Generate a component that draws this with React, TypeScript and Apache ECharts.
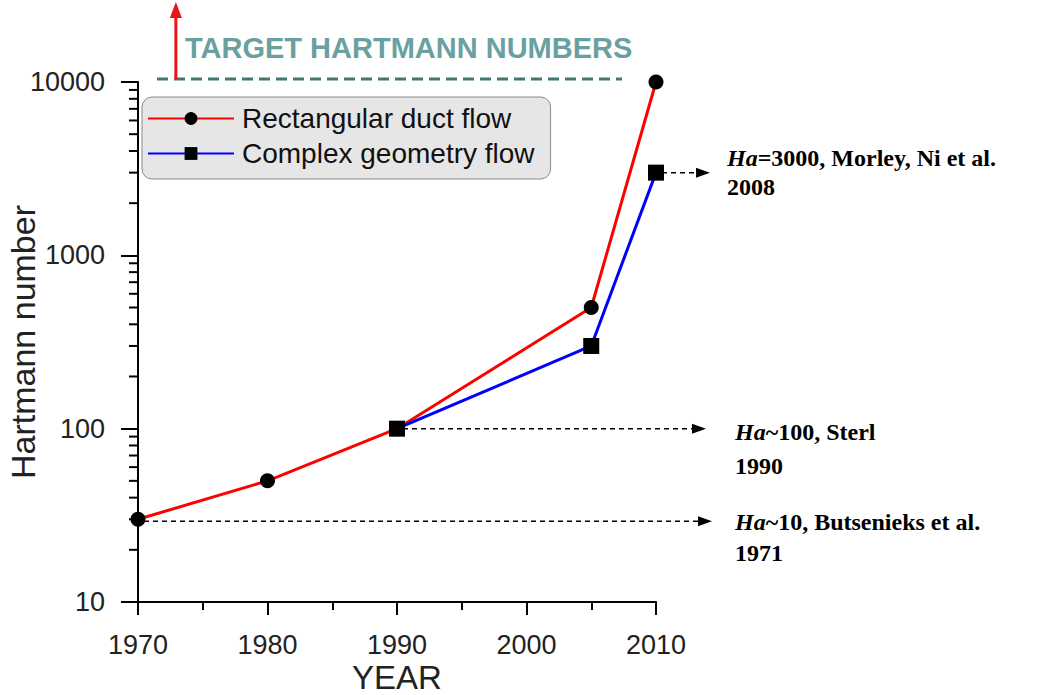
import React, { useEffect, useRef } from "react";
import * as echarts from "echarts";

const years = [1970, 1980, 1990, 2005, 2010];
const rectValues = [30, 50, 100, 500, 10000];
const complexYears = [1990, 2005, 2010];
const complexValues = [100, 300, 3000];
const yMinorTicks = [20, 30, 40, 50, 60, 70, 80, 90, 200, 300, 400, 500, 600, 700, 800, 900, 2000, 3000, 4000, 5000, 6000, 7000, 8000, 9000];
const annotations = [
  { year: 2010, value: 3000, line1: "=3000, Morley, Ni et al.", line2: "2008", tipX: 710, textX: 727, dy1: -15, dy2: 14 },
  { year: 1990, value: 100, line1: "~100, Sterl", line2: "1990", tipX: 706, textX: 735, dy1: 3, dy2: 37 },
  { year: 1970, value: 30, line1: "~10, Butsenieks et al.", line2: "1971", tipX: 712, textX: 735, dy1: 1, dy2: 32 },
];
const targetLabel = "TARGET HARTMANN NUMBERS";

export default function App() {
  const ref = useRef<HTMLDivElement>(null);
  useEffect(() => {
    document.body.style.margin = "0";
    const chart = echarts.init(ref.current!, null, { renderer: "svg" });
    const sans = "Liberation Sans, Arial, sans-serif";
    const serif = "Liberation Serif, DejaVu Serif, serif";
    chart.setOption({
      animation: false,
      grid: { left: 138, top: 82, right: 400, bottom: 93, containLabel: false, outerBoundsMode: "none" },
      legend: {
        orient: "vertical",
        left: 142,
        top: 97,
        data: ["Rectangular duct flow", "Complex geometry flow"],
        itemWidth: 86,
        itemHeight: 16,
        itemGap: 6,
        padding: [7, 16, 11, 5],
        backgroundColor: "#e6e6e6",
        borderColor: "#8a8a8a",
        borderWidth: 1,
        borderRadius: 10,
        textStyle: { fontFamily: sans, fontSize: 28, lineHeight: 29, color: "#111", padding: [0, 0, 0, 3] },
      },
      xAxis: {
        type: "value",
        min: 1970,
        max: 2010,
        interval: 10,
        name: "YEAR",
        nameLocation: "middle",
        nameGap: 59,
        nameMoveOverlap: false,
        nameTextStyle: { fontFamily: sans, fontSize: 33, lineHeight: 33, color: "#222" },
        axisLine: { lineStyle: { color: "#000", width: 2 } },
        axisTick: { length: 13, lineStyle: { color: "#000", width: 2 } },
        minorTick: { show: true, splitNumber: 2, length: 8, lineStyle: { color: "#000", width: 2 } },
        splitLine: { show: false },
        axisLabel: { fontFamily: sans, fontSize: 27, color: "#222", margin: 29, formatter: (v: number) => String(v) },
      },
      yAxis: {
        type: "log",
        logBase: 10,
        min: 10,
        max: 10000,
        name: "Hartmann number",
        nameLocation: "middle",
        nameGap: 98,
        nameMoveOverlap: false,
        nameTextStyle: { fontFamily: sans, fontSize: 34, color: "#222" },
        axisLine: { lineStyle: { color: "#000", width: 2 } },
        axisTick: { length: 17, lineStyle: { color: "#000", width: 2 } },
        splitLine: { show: false },
        axisLabel: { fontFamily: sans, fontSize: 27, color: "#222", margin: 33, formatter: (v: number) => String(v) },
      },
      series: [
        {
          name: "Rectangular duct flow",
          type: "line",
          data: years.map((y, i) => [y, rectValues[i]]),
          lineStyle: { color: "#ff0000", width: 3 },
          itemStyle: { color: "#000" },
          color: "#ff0000",
          symbol: "circle",
          symbolSize: 15,
          z: 3,
        },
        {
          name: "Complex geometry flow",
          type: "line",
          data: complexYears.map((y, i) => [y, complexValues[i]]),
          lineStyle: { color: "#0000ff", width: 3 },
          itemStyle: { color: "#000" },
          color: "#0000ff",
          symbol: "rect",
          symbolSize: 16,
          z: 4,
        },
        {
          name: "minor",
          type: "custom",
          data: yMinorTicks.map((v) => [1970, v]),
          silent: true,
          renderItem: (params: any, api: any) => {
            const p = api.coord([api.value(0), api.value(1)]);
            return {
              type: "line",
              shape: { x1: p[0] - 9, y1: p[1], x2: p[0], y2: p[1] },
              style: { stroke: "#000", lineWidth: 2 },
            };
          },
          z: 2,
        },
      ],
    });

    const graphics: any[] = [];
    annotations.forEach((a) => {
      const p = chart.convertToPixel({ gridIndex: 0 }, [a.year, a.value]) as number[];
      const y = p[1] + (a.year === 1970 ? 2 : 0);
      graphics.push({
        type: "line",
        shape: { x1: p[0] + 6, y1: y, x2: a.tipX - 12, y2: y },
        style: { stroke: "#000", lineWidth: 1.5, lineDash: [5, 4] },
        z: 1,
      });
      graphics.push({
        type: "polygon",
        shape: { points: [[a.tipX, y], [a.tipX - 14, y - 5], [a.tipX - 14, y + 5]] },
        style: { fill: "#000" },
      });
      graphics.push({
        type: "text",
        x: a.textX,
        y: y + a.dy1,
        style: {
          text: "{i|Ha}" + a.line1,
          fill: "#000",
          font: `bold 24px ${serif}`,
          verticalAlign: "middle",
          rich: { i: { fontStyle: "italic", fontWeight: "bold", fontSize: 24, fontFamily: serif } },
        },
      });
      graphics.push({
        type: "text",
        x: a.textX,
        y: y + a.dy2,
        style: { text: a.line2, fill: "#000", font: `bold 24px ${serif}`, verticalAlign: "middle" },
      });
    });
    const top = chart.convertToPixel({ gridIndex: 0 }, [1973, 10000]) as number[];
    const ty = top[1] - 3;
    graphics.push({
      type: "line",
      shape: { x1: 157, y1: ty, x2: 622, y2: ty },
      style: { stroke: "#3f7676", lineWidth: 3, lineDash: [11, 6] },
    });
    graphics.push({
      type: "line",
      shape: { x1: top[0] - 1, y1: ty, x2: top[0] - 1, y2: 16 },
      style: { stroke: "#e8141a", lineWidth: 3 },
    });
    graphics.push({
      type: "polygon",
      shape: { points: [[top[0] - 1, 2], [top[0] - 7, 18], [top[0] + 5, 18]] },
      style: { fill: "#e8141a" },
    });
    graphics.push({
      type: "text",
      x: 185,
      y: 48,
      style: {
        text: targetLabel,
        fill: "#6aa0a0",
        font: `bold 29px ${sans}`,
        verticalAlign: "middle",
      },
    });
    chart.setOption({ graphic: graphics });
    return () => chart.dispose();
  }, []);
  return <div ref={ref} style={{ width: 1056, height: 695 }} />;
}
